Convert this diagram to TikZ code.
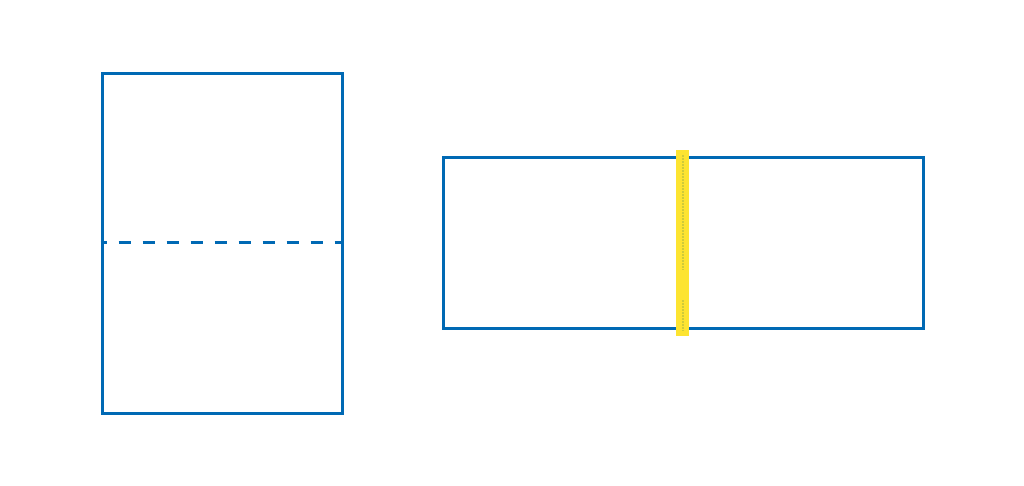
\documentclass[tikz,border=0pt]{standalone}
\definecolor{fblue}{HTML}{0069B4}
\definecolor{zyellow}{HTML}{FDE431}
\definecolor{zteeth}{HTML}{CFCB3A}
\tikzset{
  panel/.style={draw=fblue, line width=3pt, inner sep=0pt, anchor=north west},
  fold/.style={draw=fblue, line width=3pt, dash pattern=on 12pt off 12pt, dash phase=6pt},
  zipper/.style={fill=zyellow, draw=none, inner sep=0pt, anchor=north west},
  teeth/.style={draw=zteeth, line width=2pt, dash pattern=on 1.5pt off 1.5pt}
}
\begin{document}
\begin{tikzpicture}[x=1pt,y=-1pt]
\useasboundingbox (0,0) rectangle (1024,485);
% left: unfolded sheet
\node[panel, minimum width=240.5pt, minimum height=339.5pt] (sheet) at (100.5,72) {};
\coordinate (foldL) at (100.5,242);
\coordinate (foldR) at (341,242);
\draw[fold] (foldL) -- (foldR);
% right: folded sheet with zipper
\node[panel, minimum width=480pt, minimum height=171pt] (folded) at (442,156) {};
\node[zipper, minimum width=13pt, minimum height=186pt] (zip) at (676,150) {};
\coordinate (t1) at (682.5,155);
\coordinate (t2) at (682.5,270);
\coordinate (t3) at (682.5,300);
\coordinate (t4) at (682.5,331);
\draw[teeth] (t1) -- (t2);
\draw[teeth] (t3) -- (t4);
\end{tikzpicture}
\end{document}
